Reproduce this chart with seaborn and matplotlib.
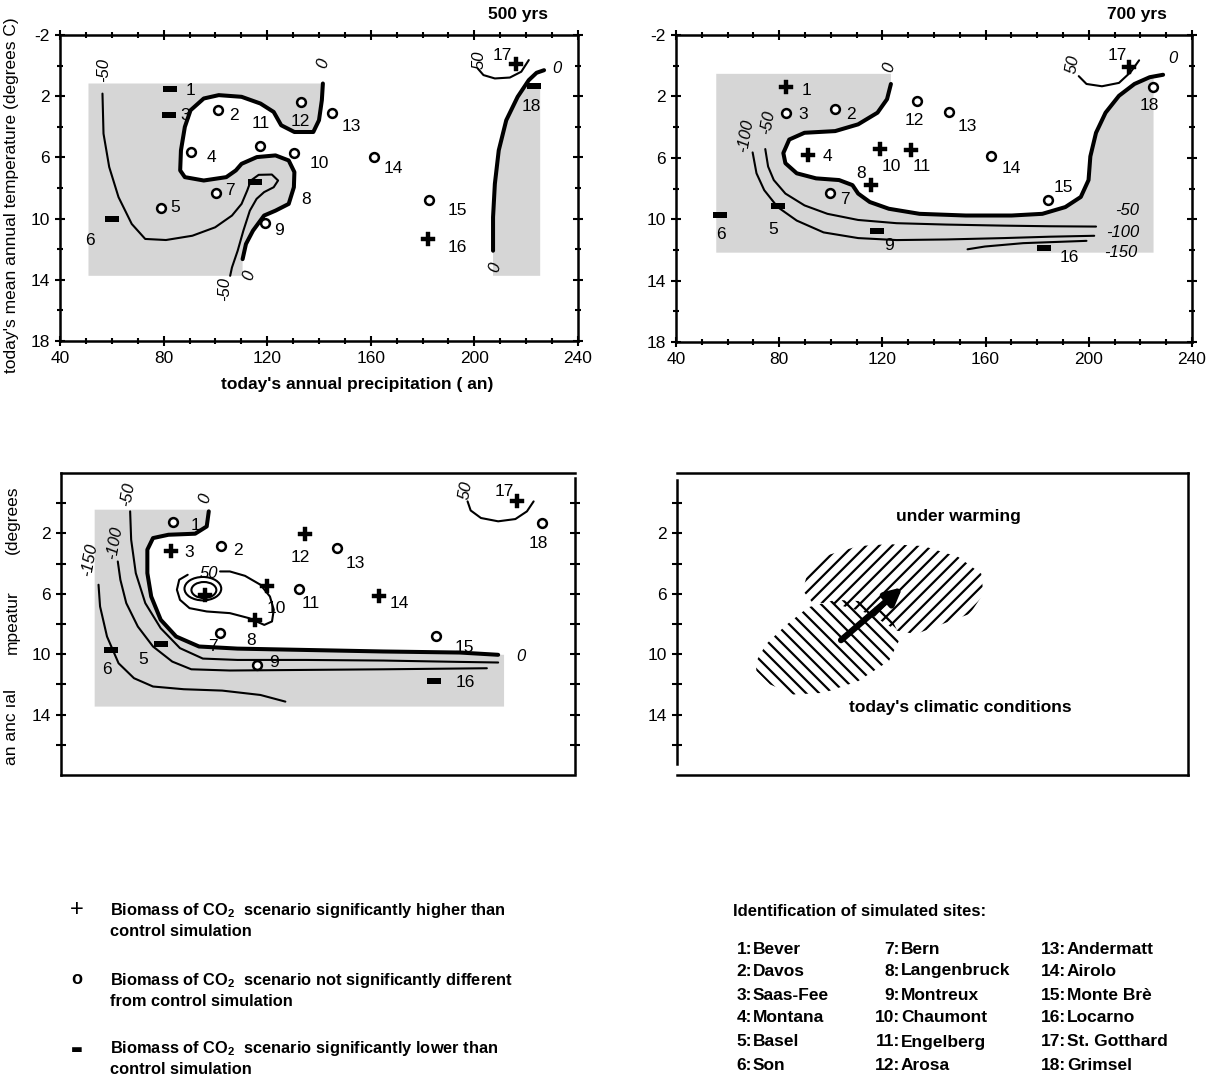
import numpy as np
import pandas as pd
import matplotlib
matplotlib.use("Agg")
import matplotlib.pyplot as plt
import seaborn as sns
from matplotlib.patches import Polygon, Ellipse
from matplotlib.ticker import MultipleLocator, FixedLocator

# ---------------------------------------------------------------- data
site_numbers = list(range(1, 19))
site_names = ["Bever", "Davos", "Saas-Fee", "Montana", "Basel", "Son",
              "Bern", "Langenbruck", "Montreux", "Chaumont", "Engelberg", "Arosa",
              "Andermatt", "Airolo", "Monte Brè", "Locarno", "St. Gotthard", "Grimsel"]

# ---- panel 1: 500 yrs (precipitation, temperature, significance)
tl_x = [82.6, 101.0, 81.9, 90.7, 79.0, 60.0, 100.3, 115.2, 119.3, 130.4, 117.4, 133.0, 145.1, 161.2, 182.6, 182.1, 215.9, 223.2]
tl_y = [1.56, 2.92, 3.20, 5.67, 9.30, 10.02, 8.34, 7.62, 10.30, 5.69, 5.28, 2.37, 3.09, 5.98, 8.78, 11.33, -0.10, 1.34]
tl_sig = ["-", "o", "-", "o", "o", "-", "o", "-", "o", "o", "o", "o", "o", "o", "o", "+", "+", "-"]
tl_lab_x = [90.4, 107.2, 88.2, 98.4, 84.5, 51.7, 105.7, 134.9, 124.7, 140.0, 117.4, 132.7, 152.4, 168.5, 193.3, 193.3, 210.8, 221.8]
tl_lab_y = [1.65, 3.25, 3.25, 5.98, 9.26, 11.44, 8.17, 8.76, 10.79, 6.42, 3.79, 3.68, 4.01, 6.74, 9.48, 11.88, -0.69, 2.70]

tl_zero_a_x = [141.5, 141.1, 140.0, 137.8, 130.5, 125.4, 122.5, 117.4, 110.1, 101.3, 95.5, 90.4, 88.2, 86.7, 86.4, 88.2, 95.5, 104.2, 107.9, 110.1, 116.0, 123.2, 128.3, 130.5, 130.3, 128.3, 123.2, 118.8, 114.5, 111.8, 110.5]
tl_zero_a_y = [1.17, 2.26, 3.57, 4.34, 4.34, 3.90, 3.03, 2.48, 2.04, 1.93, 2.15, 2.92, 4.01, 5.54, 6.85, 7.29, 7.51, 7.29, 6.85, 6.42, 5.98, 5.87, 6.20, 6.96, 7.95, 9.04, 9.48, 9.80, 10.79, 11.66, 12.65]
tl_m50_x = [56.4, 56.8, 59.0, 62.6, 67.7, 72.9, 80.9, 91.1, 99.9, 106.4, 110.1, 112.3, 113.7, 116.7, 121.8, 124.2, 122.5, 118.8, 115.9, 113.3, 110.8, 108.6, 106.4, 105.7]
tl_m50_y = [1.83, 4.45, 6.63, 8.60, 10.35, 11.33, 11.40, 11.12, 10.57, 9.80, 9.04, 8.16, 7.51, 7.14, 7.12, 7.51, 7.95, 8.27, 8.71, 9.48, 10.79, 12.10, 13.19, 13.74]
tl_zero_b_x = [207.2, 207.2, 207.9, 209.4, 212.3, 216.7, 221.0, 224.0, 226.9]
tl_zero_b_y = [12.10, 9.91, 7.73, 5.54, 3.57, 2.04, 0.95, 0.47, 0.30]
tl_p50_x = [201.3, 203.5, 207.9, 213.7, 218.1, 221.0]
tl_p50_y = [0.19, 0.62, 0.84, 0.78, 0.40, -0.36]
tl_domain = [51.0, 225.4, 1.17, 13.74]          # left, right, top, bottom of simulated area
tl_clabels = [(56.8, 0.3, "-50", 90), (141.5, -0.14, "0", 75), (113.0, 13.7, "0", 75),
              (103.5, 14.6, "-50", 90), (202.0, -0.36, "50", 90), (208.0, 13.2, "0", 75),
              (232.0, 0.19, "0", 0)]

# ---- panel 2: 700 yrs
tr_x = [82.8, 101.7, 82.8, 91.0, 79.4, 57.1, 99.8, 115.4, 118.1, 119.1, 131.0, 133.4, 145.7, 161.9, 184.0, 182.5, 215.5, 224.8]
tr_y = [1.36, 2.84, 3.10, 5.80, 9.17, 9.72, 8.29, 7.78, 10.75, 5.41, 5.52, 2.33, 3.01, 5.91, 8.73, 11.89, 0.09, 1.41]
tr_sig = ["+", "o", "o", "+", "-", "-", "o", "+", "-", "+", "+", "o", "o", "o", "o", "-", "+", "o"]
tr_lab_x = [90.6, 107.7, 89.1, 98.7, 77.6, 57.4, 105.4, 111.7, 122.5, 123.3, 135.2, 132.2, 153.0, 170.1, 190.2, 192.4, 211.0, 223.6]
tr_lab_y = [1.63, 3.17, 3.17, 5.91, 10.64, 11.01, 8.73, 7.01, 11.74, 6.57, 6.57, 3.60, 3.93, 6.68, 7.93, 12.51, -0.68, 2.62]

tr_zero_x = [123.3, 121.8, 118.1, 110.6, 101.7, 89.8, 83.9, 81.6, 82.4, 86.8, 94.3, 103.2, 108.4, 110.6, 115.1, 122.5, 134.4, 152.3, 170.1, 182.0, 190.9, 196.9, 199.9, 200.6, 202.8, 206.5, 211.7, 217.7, 223.6, 228.8]
tr_zero_y = [1.19, 2.18, 3.06, 3.82, 4.26, 4.37, 4.81, 5.69, 6.35, 7.01, 7.34, 7.45, 7.78, 8.33, 8.88, 9.32, 9.65, 9.76, 9.76, 9.65, 9.21, 8.55, 7.45, 5.91, 4.37, 3.06, 1.96, 1.19, 0.75, 0.59]
tr_m50_x = [74.6, 75.7, 77.9, 82.4, 89.8, 98.7, 110.6, 125.5, 144.8, 167.1, 184.9, 202.8]
tr_m50_y = [5.43, 6.57, 7.45, 8.33, 9.10, 9.65, 10.05, 10.26, 10.35, 10.42, 10.46, 10.48]
tr_m100_x = [69.7, 71.2, 74.2, 79.4, 86.8, 97.2, 110.6, 125.5, 144.8, 167.1, 184.9, 202.1]
tr_m100_y = [5.65, 7.01, 8.11, 9.21, 10.09, 10.86, 11.23, 11.36, 11.32, 11.23, 11.14, 11.08]
tr_m150_x = [153.0, 159.7, 174.6, 199.1]
tr_m150_y = [11.96, 11.78, 11.56, 11.41]
tr_p50_x = [196.1, 199.1, 205.1, 211.7, 216.2, 219.5]
tr_p50_y = [0.68, 1.19, 1.34, 1.12, 0.42, -0.35]
tr_domain = [55.6, 225.1, 0.53, 12.18]
tr_clabels = [(122.5, 0.09, "0", 75), (66.8, 4.59, "-100", 80), (75.7, 3.71, "-50", 80),
              (193.9, -0.13, "50", 80), (232.6, -0.46, "0", 0), (214.7, 9.43, "-50", 0),
              (213.2, 10.86, "-100", 0), (212.5, 12.18, "-150", 0)]

# ---- panel 3: climate change scenario (no title)
bl_x = [83.7, 102.4, 82.8, 96.0, 78.8, 59.4, 101.9, 115.4, 116.1, 120.1, 132.5, 134.8, 147.5, 163.9, 186.0, 185.0, 217.6, 227.3]
bl_y = [1.27, 2.82, 3.15, 6.07, 9.32, 9.71, 8.59, 7.75, 10.71, 5.51, 5.67, 2.02, 2.97, 6.13, 8.78, 11.75, -0.12, 1.32]
bl_sig = ["o", "o", "+", "+", "-", "-", "o", "+", "o", "+", "o", "+", "o", "+", "o", "-", "+", "o"]
bl_lab_x = [92.2, 109.0, 90.0, None, 71.8, 57.9, 99.0, 113.9, 122.8, 123.6, 137.0, 133.3, 154.6, 171.6, 197.0, 197.2, 212.4, 225.8]
bl_lab_y = [1.49, 3.15, 3.26, None, 10.34, 11.03, 9.52, 9.08, 10.56, 6.95, 6.62, 3.57, 3.97, 6.66, 9.53, 11.88, -0.78, 2.64]

bl_zero_x = [97.5, 96.7, 92.2, 81.8, 75.8, 73.6, 73.6, 75.1, 78.8, 84.8, 93.7, 108.7, 135.5, 165.4, 195.2, 210.1]
bl_zero_y = [0.54, 1.54, 2.02, 2.09, 2.31, 3.08, 4.63, 6.18, 7.72, 8.83, 9.49, 9.63, 9.72, 9.82, 9.89, 10.04]
bl_m50_x = [66.9, 67.3, 69.1, 72.8, 78.8, 86.3, 95.2, 108.7, 135.5, 165.4, 195.2, 210.1]
bl_m50_y = [0.54, 2.42, 4.63, 6.62, 8.28, 9.60, 10.29, 10.38, 10.38, 10.42, 10.51, 10.55]
bl_m100_x = [62.1, 63.1, 65.4, 69.9, 75.8, 83.3, 90.7, 105.7, 135.5, 165.4, 205.7]
bl_m100_y = [3.86, 5.07, 6.62, 8.17, 9.49, 10.49, 11.00, 11.08, 11.04, 11.00, 10.93]
bl_m150_x = [54.6, 55.2, 57.9, 62.4, 68.4, 75.8, 87.8, 102.7, 117.6, 127.3]
bl_m150_y = [5.40, 6.84, 8.83, 10.60, 11.59, 12.14, 12.32, 12.41, 12.70, 13.14]
bl_p50_loop_x = [89.3, 86.0, 85.1, 86.3, 90.0, 96.7, 105.7, 113.1, 119.1, 122.1, 122.8, 121.3, 117.6, 111.6, 105.7, 101.9]
bl_p50_loop_y = [4.74, 5.07, 5.73, 6.40, 6.95, 7.17, 7.28, 7.61, 8.06, 7.83, 7.06, 6.18, 5.40, 4.81, 4.52, 4.52]
bl_p50_arc_x = [198.2, 199.4, 203.4, 210.1, 216.8, 221.3, 223.9]
bl_p50_arc_y = [-0.12, 0.48, 0.98, 1.20, 1.05, 0.54, -0.12]
bl_rings = [(95.2, 5.66, 14.3, 1.55), (95.6, 5.75, 9.7, 1.06)]   # centre x, centre y, width, height
bl_domain = [53.1, 212.4, 0.43, 13.47]
bl_clabels = [(66.1, -0.56, "-50", 80), (96.0, -0.34, "0", 75), (60.9, 2.64, "-100", 80),
              (51.2, 3.75, "-150", 80), (97.5, 4.63, "50", 0), (219.1, 10.16, "0", 0),
              (197.5, -0.9, "50", 80)]

# ---- panel 4: schematic
br_today_x = [70.7, 74.9, 82.4, 91.4, 102.0, 112.5, 123.0, 127.5, 123.0, 111.0, 97.4, 85.4, 76.4, 71.1]
br_today_y = [10.56, 9.33, 8.11, 6.89, 6.40, 6.49, 7.33, 8.89, 10.44, 11.78, 12.56, 12.67, 12.00, 11.11]
br_warm_x = [89.2, 91.4, 99.0, 111.0, 123.0, 136.5, 150.1, 159.1, 159.9, 154.6, 145.6, 133.5, 126.0, 115.5, 102.0, 92.9]
br_warm_y = [5.78, 4.44, 3.44, 2.84, 2.71, 2.84, 3.56, 4.67, 6.00, 7.33, 7.89, 8.67, 8.44, 7.33, 6.67, 6.56]
br_arrow_from = [104.2, 9.07]
br_arrow_to = [128.3, 5.56]

# ---------------------------------------------------------------- style
sns.set_theme(style="white")
plt.rcParams["font.family"] = ["Liberation Sans", "DejaVu Sans"]
plt.rcParams["axes.unicode_minus"] = False
plt.rcParams["text.color"] = "black"
plt.rcParams["axes.labelcolor"] = "black"
plt.rcParams["xtick.color"] = "black"
plt.rcParams["ytick.color"] = "black"
plt.rcParams["mathtext.fontset"] = "custom"
plt.rcParams["mathtext.rm"] = "Liberation Sans:bold"
plt.rcParams["mathtext.bf"] = "Liberation Sans:bold"
plt.rcParams["mathtext.default"] = "bf"

W, H = 1228, 1082
fig = plt.figure(figsize=(W / 100, H / 100), dpi=100)
fig.patch.set_facecolor("white")
SHADE = "#d6d6d6"
BAR = [(-1, -0.4), (1, -0.4), (1, 0.4), (-1, 0.4), (-1, -0.4)]


def px_axes(left, top, right, bottom):
    return fig.add_axes([left / W, 1 - bottom / H, (right - left) / W, (bottom - top) / H])


def ftext(x, y, s, **kw):
    kw.setdefault("va", "center")
    kw.setdefault("color", "black")
    fig.text(x / W, 1 - y / H, s, **kw)


def base_axes(ax):
    ax.set_xlim(40, 240)
    ax.set_ylim(18, -2)
    ax.set_autoscale_on(False)
    ax.set_facecolor("white")
    for sp in ax.spines.values():
        sp.set_color("black")
        sp.set_linewidth(1.8)


def line(ax, xs, ys, thick):
    sns.lineplot(x=xs, y=ys, sort=False, estimator=None, ax=ax, color="black",
                 linewidth=2.9 if thick else 1.5, legend=False, zorder=3)


def shade(ax, px, py):
    ax.fill(px, py, color=SHADE, linewidth=0, zorder=0)


def sites(ax, xs, ys, sig, lx, ly):
    df = pd.DataFrame({"x": xs, "y": ys, "sig": sig})
    up, ns, dn = df[df.sig == "+"], df[df.sig == "o"], df[df.sig == "-"]
    if len(up):
        sns.scatterplot(data=up, x="x", y="y", marker="P", s=95, color="black",
                        edgecolor="black", linewidth=0.3, ax=ax, zorder=5, legend=False)
    if len(ns):
        sns.scatterplot(data=ns, x="x", y="y", marker="o", s=40, color="white",
                        edgecolor="black", linewidth=1.8, ax=ax, zorder=5, legend=False)
    if len(dn):
        sns.scatterplot(data=dn, x="x", y="y", marker=BAR, s=110, color="black",
                        edgecolor="black", linewidth=0, ax=ax, zorder=5, legend=False)
    for n, x, y in zip(site_numbers, lx, ly):
        if x is None:
            continue
        ax.text(x, y, str(n), fontsize=12.5, ha="center", va="center", zorder=6, color="black")
    ax.set_xlabel("")
    ax.set_ylabel("")


def clabels(ax, labels):
    for x, y, s, rot in labels:
        ax.text(x, y, s, fontsize=12, style="italic", rotation=rot, ha="center",
                va="center", zorder=6, clip_on=False, color="black")


def full_ticks(ax):
    ax.xaxis.set_major_locator(FixedLocator([40, 80, 120, 160, 200, 240]))
    ax.xaxis.set_minor_locator(MultipleLocator(10))
    ax.yaxis.set_major_locator(FixedLocator([-2, 2, 6, 10, 14, 18]))
    ax.yaxis.set_minor_locator(MultipleLocator(2))
    ax.tick_params(which="both", direction="inout", top=True, right=True, bottom=True,
                   left=True, width=1.5, colors="black", labelsize=12.5, pad=4)
    ax.tick_params(which="major", length=7)
    ax.tick_params(which="minor", length=5)


def y_only_ticks(ax, right):
    ax.set_xticks([])
    ax.yaxis.set_major_locator(FixedLocator([2, 6, 10, 14]))
    ax.yaxis.set_minor_locator(FixedLocator([0, 4, 8, 12, 16]))
    ax.tick_params(which="both", direction="inout", left=True, right=right, top=False,
                   bottom=False, width=1.5, colors="black", labelsize=12.5, pad=4)
    ax.tick_params(which="major", length=7)
    ax.tick_params(which="minor", length=7)


# ---------------------------------------------------------------- panel 1
ax1 = px_axes(60, 35, 578, 341)
base_axes(ax1)
L, R, T, B = tl_domain
shade(ax1, [L, tl_zero_a_x[0]] + tl_zero_a_x + [tl_zero_a_x[-1], L],
      [T, T] + tl_zero_a_y + [B, B])
bx = list(np.minimum(tl_zero_b_x, R))
by = list(np.maximum(tl_zero_b_y, T))
shade(ax1, [tl_zero_b_x[0]] + bx + [R, R], [B] + by + [T, B])
line(ax1, tl_zero_a_x, tl_zero_a_y, True)
line(ax1, tl_zero_b_x, tl_zero_b_y, True)
line(ax1, tl_m50_x, tl_m50_y, False)
line(ax1, tl_p50_x, tl_p50_y, False)
sites(ax1, tl_x, tl_y, tl_sig, tl_lab_x, tl_lab_y)
clabels(ax1, tl_clabels)
full_ticks(ax1)
base_axes(ax1)

# ---------------------------------------------------------------- panel 2
ax2 = px_axes(676, 35, 1192, 342)
base_axes(ax2)
L, R, T, B = tr_domain
zx = list(np.minimum(tr_zero_x, R))
zy = list(np.maximum(tr_zero_y, T))
shade(ax2, [L, tr_zero_x[0]] + zx + [R, R, L], [T, T] + zy + [T, B, B])
line(ax2, tr_zero_x, tr_zero_y, True)
line(ax2, tr_m50_x, tr_m50_y, False)
line(ax2, tr_m100_x, tr_m100_y, False)
line(ax2, tr_m150_x, tr_m150_y, False)
line(ax2, tr_p50_x, tr_p50_y, False)
sites(ax2, tr_x, tr_y, tr_sig, tr_lab_x, tr_lab_y)
clabels(ax2, tr_clabels)
full_ticks(ax2)
base_axes(ax2)

# ---------------------------------------------------------------- panel 3
ax3 = px_axes(61, 473, 575, 775)
base_axes(ax3)
L, R, T, B = bl_domain
shade(ax3, [L, bl_zero_x[0]] + bl_zero_x + [R, R, L], [T, T] + bl_zero_y + [bl_zero_y[-1], B, B])
line(ax3, bl_zero_x, bl_zero_y, True)
line(ax3, bl_m50_x, bl_m50_y, False)
line(ax3, bl_m100_x, bl_m100_y, False)
line(ax3, bl_m150_x, bl_m150_y, False)
line(ax3, bl_p50_loop_x, bl_p50_loop_y, False)
line(ax3, bl_p50_arc_x, bl_p50_arc_y, False)
for cx, cy, w, h in bl_rings:
    ax3.add_patch(Ellipse((cx, cy), w, h, fill=False, edgecolor="black", linewidth=1.5, zorder=3))
sites(ax3, bl_x, bl_y, bl_sig, bl_lab_x, bl_lab_y)
clabels(ax3, bl_clabels)
y_only_ticks(ax3, True)
base_axes(ax3)
ax3.spines["right"].set_bounds(-1.7, 17.9)

# ---------------------------------------------------------------- panel 4
ax4 = px_axes(677, 473, 1188, 775)
base_axes(ax4)
y_only_ticks(ax4, False)
ax4.spines["left"].set_bounds(-1.56, 17.3)


def hatch(ax, xs, ys, direction, spacing=13.0):
    patch = Polygon(np.column_stack([xs, ys]), closed=True, facecolor="none",
                    edgecolor="none", transform=ax.transData)
    ax.add_patch(patch)
    disp = ax.transData.transform(np.column_stack([xs, ys]))
    x0, y0 = disp.min(axis=0)
    x1, y1 = disp.max(axis=0)
    h = y1 - y0
    inv = ax.transData.inverted()
    for s in np.arange(x0 - h - spacing, x1 + spacing, spacing):
        if direction == "/":
            seg = [(s, y0), (s + h, y1)]
        else:
            seg = [(s + h, y0), (s, y1)]
        d = inv.transform(seg)
        ln, = ax.plot(d[:, 0], d[:, 1], color="black", linewidth=1.6, zorder=2)
        ln.set_clip_path(patch)


hatch(ax4, br_today_x, br_today_y, "\\")
hatch(ax4, br_warm_x, br_warm_y, "/")
ax4.annotate("", xy=br_arrow_to, xytext=br_arrow_from,
             arrowprops=dict(arrowstyle="-|>", color="black", lw=4.5,
                             mutation_scale=24, shrinkA=0, shrinkB=0), zorder=5)
ax4.text(150.1, 0.9, "under warming", ha="center", va="center", fontsize=12.5,
         weight="bold", color="black")
ax4.text(150.8, 13.56, "today's climatic conditions", ha="center", va="center",
         fontsize=12.5, weight="bold", color="black")
base_axes(ax4)

# ---------------------------------------------------------------- figure text
ftext(548, 15, "500 yrs", ha="right", fontsize=12.5, weight="bold")
ftext(1167, 15, "700 yrs", ha="right", fontsize=12.5, weight="bold")
ftext(12, 195, "today's mean annual temperature (degrees C)", rotation=90,
      ha="center", fontsize=12.5)
ftext(357, 384, "today's annual precipitation ( an)", ha="center", fontsize=12.5, weight="bold")
ftext(12, 520, "(degrees", rotation=90, ha="center", fontsize=12.5)
ftext(12, 622, "mpeatur", rotation=90, ha="center", fontsize=12.5)
ftext(12, 727, "an anc ıal", rotation=90, ha="center", fontsize=12.5)

# legend of symbols
legend_rows = [910, 980, 1048]
legend_lines = [("Biomass of CO$_2$  scenario significantly higher than", "control simulation"),
                ("Biomass of CO$_2$  scenario not significantly different", "from control simulation"),
                ("Biomass of CO$_2$  scenario significantly lower than", "control simulation")]
ftext(77, legend_rows[0], "+", ha="center", fontsize=17)
ftext(77, legend_rows[1], "o", ha="center", fontsize=13, weight="bold")
ftext(77, legend_rows[2] + 2, "▬", ha="center", fontsize=9, family="DejaVu Sans")
for yrow, (l1, l2) in zip(legend_rows, legend_lines):
    ftext(110, yrow, l1, ha="left", fontsize=11.8, weight="bold")
    ftext(110, yrow + 22, l2, ha="left", fontsize=11.8, weight="bold")

# site identification
ftext(733, 912, "Identification of simulated sites:", ha="left", fontsize=12, weight="bold")
col_x = [752, 900, 1066]
row_y = [949, 971, 995, 1018, 1042, 1065]
for i, (num, name) in enumerate(zip(site_numbers, site_names)):
    cx = col_x[i // 6]
    ry = row_y[i % 6]
    ftext(cx, ry, f"{num}:", ha="right", fontsize=12.5, weight="bold")
    ftext(cx + 1, ry, name, ha="left", fontsize=12.5, weight="bold")

fig.savefig("out.png", dpi=100, facecolor="white")
